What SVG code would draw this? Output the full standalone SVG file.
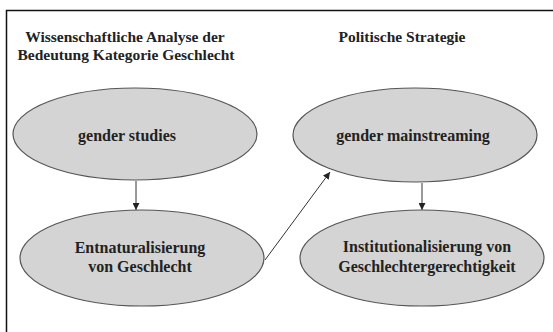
<svg xmlns="http://www.w3.org/2000/svg" width="553" height="332" viewBox="0 0 553 332">
<defs>
<style>
text{font-family:'Liberation Serif','DejaVu Serif',serif;font-weight:bold;font-size:15.5px;fill:#222;text-anchor:middle}
.n{fill:#d4d4d4;stroke:#555;stroke-width:1.2}
.c{stroke:#333;stroke-width:1;fill:none;marker-end:url(#a)}
</style>
<marker id="a" viewBox="0 0 8 8" refX="8" refY="4" markerWidth="7" markerHeight="7" markerUnits="userSpaceOnUse" orient="auto">
<path d="M0,0 L8,4 L0,8 z" fill="#222"/>
</marker>
</defs>
<rect width="553" height="332" fill="#fff"/>
<rect x="6.5" y="10.5" width="560" height="340" fill="none" stroke="#111" stroke-width="1.5"/>
<text x="125" y="42">Wissenschaftliche Analyse der</text>
<text x="126" y="60">Bedeutung Kategorie Geschlecht</text>
<text x="402" y="42">Politische Strategie</text>
<g id="connectors">
<line class="c" x1="136" y1="181" x2="136" y2="210"/>
<line class="c" x1="422" y1="183" x2="422" y2="210"/>
<line class="c" x1="265" y1="260" x2="330" y2="172"/>
</g>
<g id="gender-studies">
<ellipse class="n" cx="135" cy="134" rx="122" ry="46"/>
<text x="127" y="141" style="font-size:16px">gender studies</text>
</g>
<g id="entnaturalisierung">
<ellipse class="n" cx="142" cy="258" rx="122" ry="48"/>
<text x="140" y="253" style="font-size:16px">Entnaturalisierung</text>
<text x="140" y="272" style="font-size:16px">von Geschlecht</text>
</g>
<g id="gender-mainstreaming">
<ellipse class="n" cx="415" cy="135" rx="122" ry="47"/>
<text x="413" y="141" style="font-size:16px">gender mainstreaming</text>
</g>
<g id="institutionalisierung">
<ellipse class="n" cx="422" cy="258" rx="122" ry="48"/>
<text x="427" y="252" style="font-size:16px">Institutionalisierung von</text>
<text x="427" y="272" style="font-size:16px">Geschlechtergerechtigkeit</text>
</g>
</svg>
